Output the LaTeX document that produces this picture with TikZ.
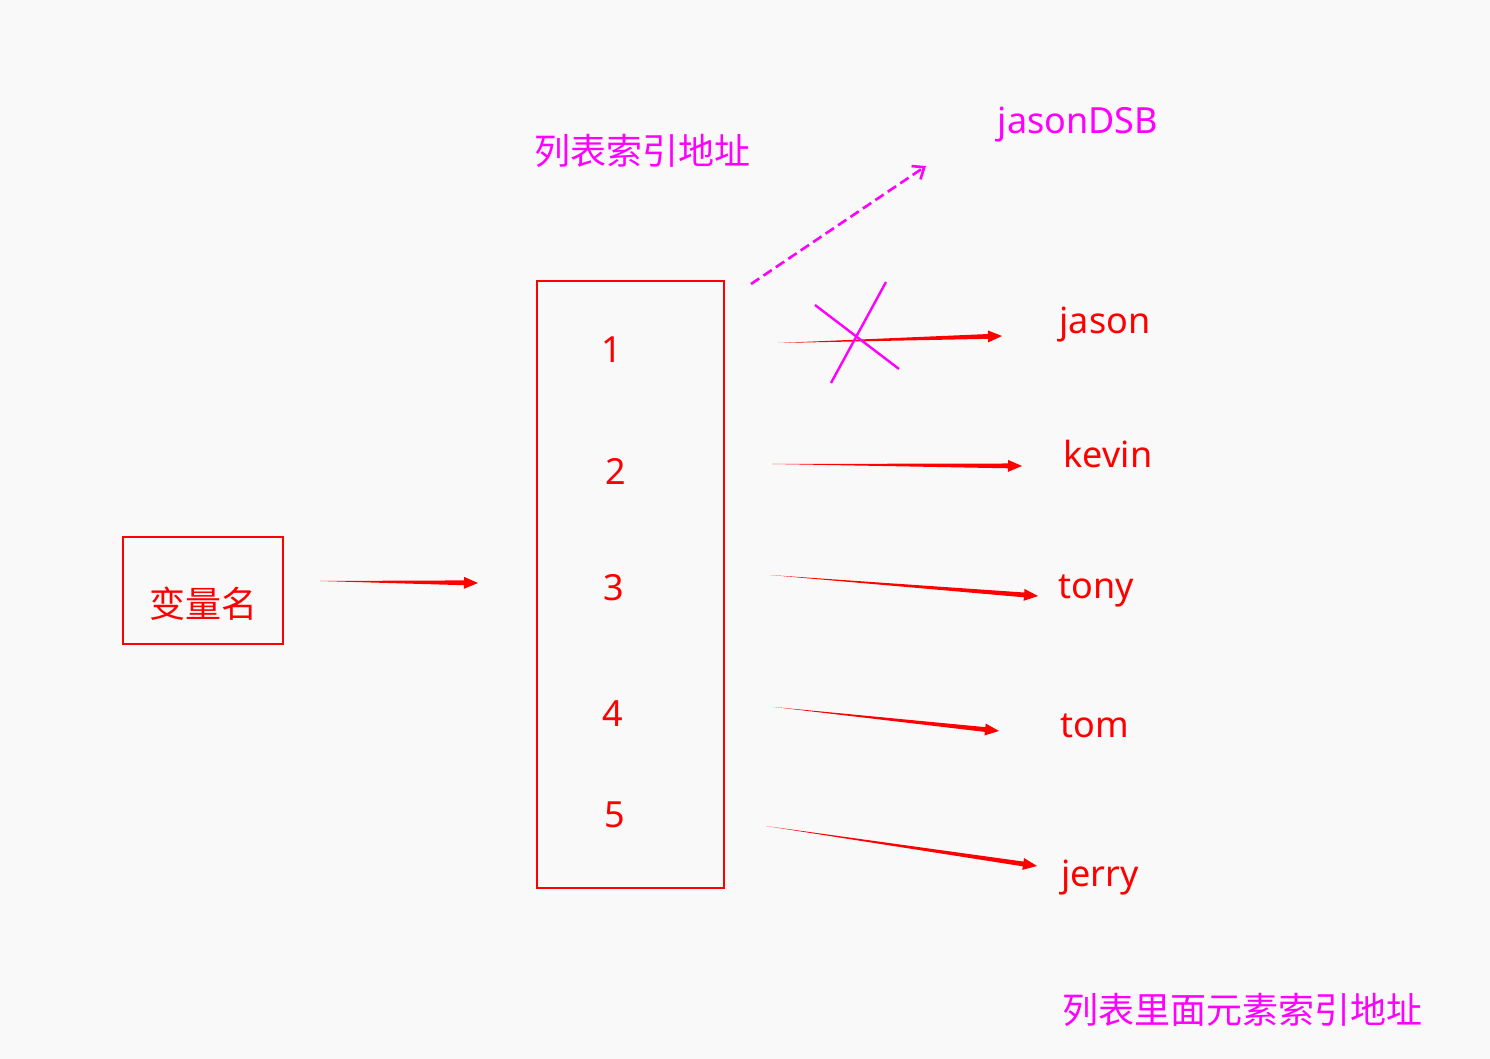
\documentclass[tikz,border=0pt]{standalone}
\usepackage{fontspec}
\setmainfont{Noto Sans}
\newfontfamily\cjk{Noto Sans CJK SC}
\usetikzlibrary{arrows.meta,calc}
\definecolor{Pen}{HTML}{FF0000}
\definecolor{Ink}{HTML}{FF00FF}
\definecolor{Paper}{HTML}{F9F9F9}

\begin{document}
\begin{tikzpicture}[
  x=0.5pt,y=-0.5pt,
  every node/.style={font=\fontsize{18}{21}\selectfont,inner sep=0pt},
  redtxt/.style={text=Pen},
  pinktxt/.style={text=Ink},
  frame/.style={draw=Pen,line width=1.3pt},
  pen/.style={fill=Pen,to path={
      ($(\tikztotarget)!7pt!(\tikztostart)$) coordinate (penhead)
      (\tikztostart) -- ($(penhead)!1.2pt!90:(\tikztostart)$)
      -- ($(penhead)!3pt!90:(\tikztostart)$) -- (\tikztotarget)
      -- ($(penhead)!3pt!-90:(\tikztostart)$)
      -- ($(penhead)!1.2pt!-90:(\tikztostart)$) -- cycle}},
  cross/.style={draw=Ink,line width=1.2pt},
  moved/.style={draw=Ink,line width=1.3pt,dash pattern=on 5pt off 2.5pt,-{Straight Barb[length=5pt,width=8pt]}}
]
\fill[Paper] (0,0) rectangle (1490,1059);

% variable and list
\node[frame,minimum width=80pt,minimum height=53.5pt] (var) at (203,590.5) {};
\node[redtxt,yshift=-6.5pt] (varname) at (var.center) {\cjk 变量名};
\node[frame,minimum width=93.5pt,minimum height=303.5pt] (list) at (630.5,584.5) {};
\node[redtxt] (i1) at (612,350) {1};
\node[redtxt] (i2) at (616,471) {2};
\node[redtxt] (i3) at (614,588) {3};
\node[redtxt] (i4) at (613,714) {4};
\node[redtxt] (i5) at (615,815) {5};

% values
\node[redtxt] (jason) at (1105,325) {jason};
\node[redtxt] (kevin) at (1108,454) {kevin};
\node[redtxt] (tony) at (1096,591) {tony};
\node[redtxt] (tom) at (1095,726) {tom};
\node[redtxt] (jerry) at (1100,878) {jerry};
\node[pinktxt] (newval) at (1078,125) {jasonDSB};

% captions
\node[pinktxt] (listaddr) at (642,151) {\cjk 列表索引地址};
\node[pinktxt] (itemaddr) at (1242,1010) {\cjk 列表里面元素索引地址};

% arrow ends
\coordinate (v0) at (320,581);  \coordinate (l0) at (478,583);
\coordinate (s1) at (778,343);  \coordinate (e1) at (1002,336);
\coordinate (s2) at (772,464);  \coordinate (e2) at (1022,466);
\coordinate (s3) at (770,575);  \coordinate (e3) at (1038,596);
\coordinate (s4) at (774,707);  \coordinate (e4) at (999,731);
\coordinate (s5) at (766,826);  \coordinate (e5) at (1037,866);
\coordinate (d0) at (751,284);  \coordinate (d1) at (926,166);

\path[pen] (v0) to (l0);
\path[pen] (s1) to (e1);
\path[pen] (s2) to (e2);
\path[pen] (s3) to (e3);
\path[pen] (s4) to (e4);
\path[pen] (s5) to (e5);
\draw[moved] (d0) -- (d1);

% crossed out
\draw[cross] (815,305) -- (899,369);
\draw[cross] (886,282) -- (831,383);
\end{tikzpicture}
\end{document}
